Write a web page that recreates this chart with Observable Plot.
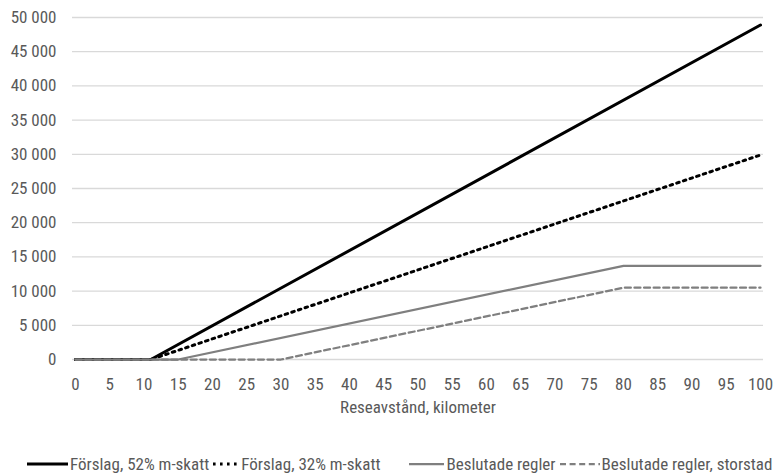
<!DOCTYPE html>
<html>
<head>
<meta charset="utf-8">
<script src="https://cdn.jsdelivr.net/npm/d3@7"></script>
<script src="https://cdn.jsdelivr.net/npm/@observablehq/plot@0.6"></script>
<style>
  html, body { margin: 0; padding: 0; background: #fff; }
  #legend { display: flex; justify-content: flex-start; align-items: center; margin-top: 34px; padding-left: 27px; white-space: nowrap;
    font-size: 17px; color: #595959; line-height: 20px; }
  #legend .item { display: flex; align-items: center; white-space: nowrap; }
  #legend svg { margin-right: 2px; }
</style>
</head>
<body>
<div id="chart"></div>
<div id="legend"></div>
<script>
// Data
const seriesNames = ["Förslag, 52% m-skatt", "Förslag, 32% m-skatt", "Beslutade regler", "Beslutade regler, storstad"];
const kmForslag = [0, 11, 100];
const forslag52 = [0, 0, 48900];
const forslag32 = [0, 0, 29900];
const kmBeslutade = [0, 15, 80, 100];
const beslutade = [0, 0, 13700, 13700];
const kmStorstad = [0, 30, 80, 100];
const storstad = [0, 0, 10500, 10500];
const xTicks = [0,5,10,15,20,25,30,35,40,45,50,55,60,65,70,75,80,85,90,95,100];
const yTicks = [0,5000,10000,15000,20000,25000,30000,35000,40000,45000,50000];
const xTitle = "Reseavstånd, kilometer";

// Pick an installed regular-weight condensed face closest to the reference text width
const canvas = document.createElement("canvas");
const ctx = canvas.getContext("2d");
const sample = "Förslag, 52% m-skatt";
const targetW = 140;
function measure(fam, stretch) {
  ctx.font = `17px ${fam}`;
  try { ctx.fontStretch = stretch; } catch (e) {}
  const w = ctx.measureText(sample).width;
  try { ctx.fontStretch = "normal"; } catch (e) {}
  return w;
}
const mono = measure("monospace", "normal");
const candidates = [];
for (const f of ["Liberation Sans Narrow", "DejaVu Sans Condensed", "Roboto Condensed", "Noto Sans Condensed", "Roboto", "Open Sans", "Noto Sans", "Liberation Sans", "Lato", "Inter", "DejaVu Sans"]) {
  for (const st of ["normal", "semi-condensed", "condensed", "extra-condensed"]) {
    const w = measure(`"${f}", monospace`, st);
    if (Math.abs(w - mono) > 0.5) candidates.push({f, st, w});
  }
}
let best = {f: "Liberation Sans", st: "normal", w: 150};
if (candidates.length) best = candidates.reduce((a, b) => Math.abs(b.w - targetW) < Math.abs(a.w - targetW) ? b : a);
let fontSize = 17;
if (best.w > targetW) fontSize = Math.max(15, 17 * targetW / best.w);
const font = `"${best.f}", sans-serif`;

const styles = [
  {stroke: "#000000", strokeWidth: 3, dash: null, sw: 41, gap: 4},
  {stroke: "#000000", strokeWidth: 3, dash: "2.6 4.4", sw: 26, gap: 29},
  {stroke: "#7f7f7f", strokeWidth: 2.25, dash: null, sw: 35, gap: 4},
  {stroke: "#7f7f7f", strokeWidth: 2.25, dash: "6 3.6", sw: 40, gap: 0}
];

const zip = (xs, ys) => xs.map((x, i) => ({x, y: ys[i]}));
const seriesData = [zip(kmForslag, forslag52), zip(kmForslag, forslag32), zip(kmBeslutade, beslutade), zip(kmStorstad, storstad)];

const fmt = d3.formatLocale({decimal: ",", thousands: " ", grouping: [3], currency: ["", ""]}).format(",");

const chart = Plot.plot({
  width: 778, height: 420,
  marginTop: 17, marginLeft: 75, marginRight: 18, marginBottom: 61,
  style: {fontFamily: font, fontStretch: best.st, fontWeight: "normal", fontSize: `${fontSize}px`, color: "#595959", background: "white", overflow: "visible"},
  x: {domain: [0, 100]},
  y: {domain: [0, 50000]},
  marks: [
    Plot.ruleY(yTicks, {stroke: "#d9d9d9", strokeWidth: 1.3, insetLeft: -3, insetRight: -3}),
    Plot.axisY({ticks: yTicks, tickSize: 0, tickPadding: 19, tickFormat: fmt, label: null, fill: "#595959"}),
    Plot.axisX({ticks: xTicks, tickSize: 0, tickPadding: 18, label: null, fill: "#595959"}),
    Plot.text([xTitle], {frameAnchor: "bottom", dy: 48, text: d => d, fill: "#595959", lineAnchor: "middle"}),
    ...seriesData.map((data, i) => Plot.line(data, {
      x: "x", y: "y",
      stroke: styles[i].stroke,
      strokeWidth: styles[i].strokeWidth,
      strokeDasharray: styles[i].dash,
      strokeLinejoin: "round"
    }))
  ]
});
document.getElementById("chart").appendChild(chart);

// Legend
const legend = document.getElementById("legend");
legend.style.fontFamily = font;
legend.style.fontStretch = best.st;
legend.style.fontSize = `${fontSize}px`;
seriesNames.forEach((name, i) => {
  const s = styles[i];
  const item = document.createElement("div");
  item.className = "item";
  item.style.marginRight = `${s.gap}px`;
  const w = s.sw;
  item.innerHTML = `<svg width="${w}" height="10"><line x1="0" x2="${w}" y1="5" y2="5" stroke="${s.stroke}" stroke-width="${s.strokeWidth}" ${s.dash ? `stroke-dasharray="${s.dash}"` : ""}/></svg><span>${name}</span>`;
  legend.appendChild(item);
});
</script>
</body>
</html>
